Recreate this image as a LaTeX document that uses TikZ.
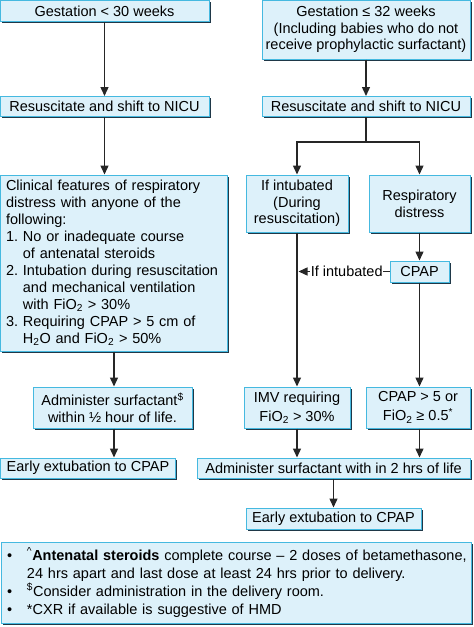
\documentclass[tikz,border=0pt]{standalone}
\usepackage{fontspec}
\setmainfont{Liberation Sans}
\usetikzlibrary{arrows.meta,positioning,calc,shadows}
\definecolor{boxfill}{HTML}{DDF1FA}
\definecolor{boxline}{HTML}{45B9E0}
\definecolor{boxshade}{HTML}{1F3848}
\tikzset{
  box/.style={draw=boxline, fill=boxfill, line width=1pt, inner sep=1pt, align=center,
    font=\fontsize{14.5}{17}\selectfont,
    drop shadow={shadow xshift=1.8pt, shadow yshift=-1.8pt, fill=boxshade, opacity=1}},
  arr/.style={draw=black!85, line width=1.4pt, -{Triangle[length=9pt,width=8pt]}}
}
\newcommand{\sub}[1]{\textsubscript{#1}}
\newcommand{\ind}{\phantom{1.\ }}
\newcommand{\bul}{\makebox[24pt][l]{\hspace{4pt}\textbullet}}

\begin{document}
\begin{tikzpicture}[x=1pt,y=-1pt]
    \useasboundingbox (0,0) rectangle (474,627);
    % left column
    \node[box, minimum width=209, minimum height=21] (gest30) at (104.5,11) {Gestation < 30 weeks};
    \node[box, minimum width=209, minimum height=20] (resus1) at (104.5,106.5) {Resuscitate and shift to NICU};
    \node[box, minimum width=227, minimum height=176, text width=216, inner xsep=5.5pt, align=left] (clinical) at (114,263)
      {Clinical features of respiratory\\distress with anyone of the\\following:\\
       1.\ No or inadequate course\\\ind of antenatal steroids\\
       2.\ Intubation during resuscitation\\\ind and mechanical ventilation\\\ind with FiO\sub{2} > 30\%\\
       3.\ Requiring CPAP > 5 cm of\\\ind H\sub{2}O and FiO\sub{2} > 50\%};
    \node[box, minimum width=159, minimum height=41, font=\fontsize{14.5}{16.5}\selectfont] (admin1) at (112.5,407.5)
      {Administer surfactant\textsuperscript{\$}\\within ½ hour of life.};
    \node[box, minimum width=175, minimum height=20] (early1) at (88,468) {Early extubation to CPAP};
    % right column
    \node[box, minimum width=208, minimum height=59, font=\fontsize{14.5}{16.5}\selectfont] (gest32) at (366,29.5)
      {Gestation ≤ 32 weeks\\(Including babies who do not\\receive prophylactic surfactant)};
    \node[box, minimum width=208, minimum height=20] (resus2) at (366,106.5) {Resuscitate and shift to NICU};
    \node[box, minimum width=102, minimum height=57, font=\fontsize{14.5}{16.5}\selectfont] (intub) at (297,203.5)
      {If intubated\\(During\\resuscitation)};
    \node[box, minimum width=101, minimum height=57] (distress) at (419.5,203.5) {Respiratory\\distress};
    \node[box, minimum width=59, minimum height=21] (cpap) at (419.5,271.5) {CPAP};
    \node[box, minimum width=106, minimum height=41, font=\fontsize{14.5}{19}\selectfont] (imv) at (297,407.5)
      {IMV requiring\\FiO\sub{2} > 30\%};
    \node[box, minimum width=104, minimum height=41, font=\fontsize{14.5}{19}\selectfont] (cpapfive) at (418,407.5)
      {CPAP > 5 or\\FiO\sub{2} ≥ 0.5\textsuperscript{*}};
    \node[box, minimum width=273, minimum height=20] (admin2) at (333.5,468) {Administer surfactant with in 2 hrs of life};
    \node[box, minimum width=175, minimum height=21] (early2) at (333.5,518.5) {Early extubation to CPAP};
    % notes
    \node[box, minimum width=470, minimum height=81, text width=466, align=left, inner xsep=2pt,
      font=\fontsize{14.5}{18}\selectfont] (notes) at (236,582.5)
      {\bul\textsuperscript{\^{}}\textbf{Antenatal steroids} complete course – 2 doses of betamethasone,\\
       \makebox[24pt][l]{}24 hrs apart and last dose at least 24 hrs prior to delivery.\\
       \bul\textsuperscript{\$}Consider administration in the delivery room.\\
       \bul*CXR if available is suggestive of HMD};
    % connectors
    \draw[arr] (gest30) -- (resus1);
    \draw[arr] (resus1.south) -- (resus1.south |- clinical.north);
    \draw[arr] (clinical.south) -- (clinical.south |- admin1.north);
    \draw[arr] (clinical.south |- admin1.south) -- (clinical.south |- early1.north);
    \draw[arr] (gest32) -- (resus2);
    \draw[arr] (resus2.south) -- ++(0,25) -| (intub.north);
    \draw[arr] (resus2.south) -- ++(0,25) -| (distress.north);
    \draw[arr] (distress) -- (cpap);
    \draw[arr] (intub) -- (imv);
    \draw[arr] (cpap) -- (cpap |- cpapfive.north);
    \coordinate (join) at (intub.south |- cpap.west);
    \draw[arr] (cpap.west) -- node[fill=white, inner sep=0.5pt, font=\fontsize{14.5}{17}\selectfont, pos=0.47] {If intubated} ($(join)+(1.5,0)$);
    \draw[arr] (imv) -- (imv |- admin2.north);
    \draw[arr] (cpapfive.south -| cpap) -- (cpap |- admin2.north);
    \draw[arr] (admin2) -- (early2);
\end{tikzpicture}
\end{document}
